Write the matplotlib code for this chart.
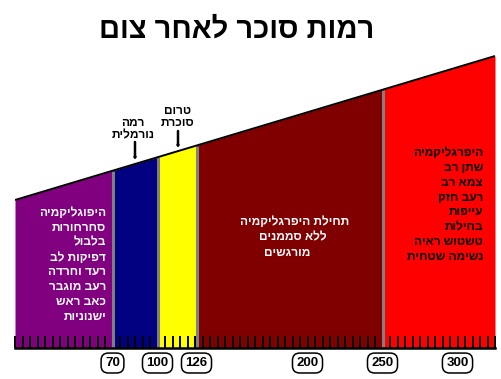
import numpy as np
import matplotlib
matplotlib.use("Agg")
import matplotlib.pyplot as plt
from matplotlib.ticker import MultipleLocator, FixedLocator

# ---- data ----
title = "רמות סוכר לאחר צום"
zone_edges = [5, 70, 100, 126, 250, 325]
zone_colors = ["#800080", "#000080", "#ffff00", "#800000", "#ff0000"]
tick_values = [70, 100, 126, 200, 250, 300]
tick_labels = ["70", "100", "126", "200", "250", "300"]
separators = [70, 100, 126, 250]

hypo_lines = ["היפוגליקמיה", "סחרחורות", "בלבול", "דפיקות לב",
              "רעד וחרדה", "רעב מוגבר", "כאב ראש", "ישנוניות"]
hyper_lines = ["היפרגליקמיה", "שתן רב", "צמא רב", "רעב חזק",
               "עייפות", "בחילות", "טשטוש ראיה", "נשימה שטחית"]
early_lines = ["תחילת היפרגליקמיה", "ללא סממנים", "מורגשים"]
normal_label = ["רמה", "נורמלית"]
pre_label = ["טרום", "סוכרת"]

# ---- style ----
W, H = 502, 379
FAM = ["Liberation Sans", "DejaVu Sans"]
top_left_h, top_right_h = 148, 292   # heights (px) of the sloped top edge


def rtl(s):
    return s[::-1]


def fy(y):  # pixel-from-top -> figure pixels
    return H - y


fig = plt.figure(figsize=(W / 100, H / 100), dpi=100)
fig.patch.set_facecolor("white")
ax = fig.add_axes([15 / W, 31 / H, 480 / W, 348 / H])
ax.set_xlim(zone_edges[0], zone_edges[-1])
ax.set_ylim(0, 348)
ax.patch.set_alpha(0)


def top(x):
    return np.interp(x, [zone_edges[0], zone_edges[-1]], [top_left_h, top_right_h])


for a, b, c in zip(zone_edges[:-1], zone_edges[1:], zone_colors):
    xs = np.array([a, b], dtype=float)
    ax.fill_between(xs, 0, top(xs), color=c, lw=0, zorder=1)

for s in separators:
    ax.vlines(s, 0, top(s), color="#808080", lw=2.2, zorder=2)

xs_all = np.array([zone_edges[0], zone_edges[-1]], dtype=float)
ax.plot(xs_all, top(xs_all), color="black", lw=1.4, zorder=3, solid_capstyle="butt")

for sp in ["top", "left", "right"]:
    ax.spines[sp].set_visible(False)
ax.spines["bottom"].set_linewidth(1.8)
ax.spines["bottom"].set_color("black")
ax.set_yticks([])

ax.xaxis.set_major_locator(FixedLocator(tick_values))
ax.set_xticklabels(tick_labels)
ax.xaxis.set_minor_locator(MultipleLocator(5))
ax.xaxis.remove_overlapping_locs = False
ax.tick_params(axis="x", which="major", length=0, pad=6.5)
ax.tick_params(axis="x", which="minor", direction="in", length=8.5, width=1.4, color="black")
for lbl in ax.get_xticklabels():
    lbl.set_fontfamily(FAM)
    lbl.set_fontweight("bold")
    lbl.set_fontsize(9.5)
    lbl.set_bbox(dict(boxstyle="round,pad=0.3,rounding_size=0.55", fc="white", ec="black", lw=1.1))

# title
fig.text(237 / W, fy(30) / H, rtl(title), ha="center", va="center",
         fontsize=21, fontweight="bold", family=FAM, color="black")

# text blocks
def block(lines, x, y0, dy, color, ha="right", xs=None):
    for i, ln in enumerate(lines):
        xx = xs[i] if xs is not None else x
        fig.text(xx / W, fy(y0 + i * dy) / H, rtl(ln), ha=ha, va="center",
                 fontsize=8.6, fontweight="bold", family=FAM, color=color)

block(hypo_lines, 106, 213, 14.86, "white")
block(hyper_lines, 483, 153, 14.86, "black")
block(early_lines, 0, 222, 15.3, "white", ha="center", xs=[295, 293, 287])
block(normal_label, 0, 123, 12.5, "black", ha="center", xs=[133, 133])
block(pre_label, 0, 111, 12.5, "black", ha="center", xs=[178, 178])

# arrows
arrow_kw = dict(arrowstyle="-|>,head_width=0.32,head_length=0.55", lw=1.8, color="black",
                shrinkA=0, shrinkB=0)
fig.add_artist(matplotlib.patches.FancyArrowPatch((135, fy(142)), (135, fy(160)),
                                                  transform=None, **arrow_kw))
fig.add_artist(matplotlib.patches.FancyArrowPatch((178, fy(131)), (178, fy(148)),
                                                  transform=None, **arrow_kw))

fig.savefig("out.png", dpi=100, facecolor="white")
